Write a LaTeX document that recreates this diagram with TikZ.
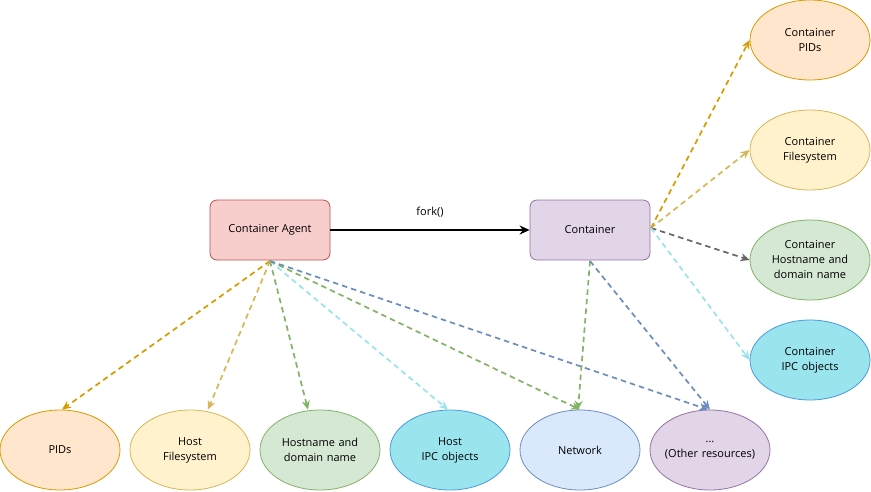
\documentclass[tikz,border=0pt]{standalone}
\usepackage{fontspec}
\setmainfont{Open Sans}
\usetikzlibrary{shapes.geometric,arrows.meta}
\definecolor{agentF}{HTML}{F8CECC}\definecolor{agentS}{HTML}{B85450}
\definecolor{purF}{HTML}{E1D5E7}\definecolor{purS}{HTML}{9673A6}
\definecolor{orF}{HTML}{FFE6CC}\definecolor{orS}{HTML}{D79B00}
\definecolor{yeF}{HTML}{FFF2CC}\definecolor{yeS}{HTML}{D6B656}
\definecolor{grF}{HTML}{D5E8D4}\definecolor{grS}{HTML}{82B366}
\definecolor{cyF}{HTML}{9AE4EE}\definecolor{cyS}{HTML}{4A9CE0}\definecolor{cyA}{HTML}{99E3ED}
\definecolor{blF}{HTML}{DAE8FC}\definecolor{blS}{HTML}{6C8EBF}
\definecolor{gyS}{HTML}{666666}
\begin{document}
\begin{tikzpicture}[x=1pt,y=-1pt,
  every node/.style={font=\fontsize{11}{15}\selectfont, align=center},
  boxnode/.style={draw, rounded corners=7pt, minimum width=120pt, minimum height=60pt, inner sep=0pt, line width=0.8pt},
  ell/.style={draw, ellipse, minimum width=120pt, minimum height=80pt, inner sep=0pt, text width=84pt, line width=0.8pt},
  dlink/.style={dashed, dash pattern=on 5.5pt off 4pt, line width=1.7pt, -{Stealth[length=9pt,width=8pt]}}]
\useasboundingbox (0,0) rectangle (871,491);
\node[boxnode, fill=agentF, draw=agentS] (agent) at (270,230) {Container Agent};
\node[boxnode, fill=purF, draw=purS] (cont) at (590,230) {Container};
\node[ell, fill=orF, draw=orS] (cpid) at (810,40) {Container\\PIDs};
\node[ell, fill=yeF, draw=yeS] (cfs) at (810,150) {Container\\Filesystem};
\node[ell, fill=grF, draw=grS] (chost) at (810,260) {Container\\Hostname and\\domain name};
\node[ell, fill=cyF, draw=cyS] (cipc) at (810,360) {Container\\IPC objects};
\node[ell, fill=orF, draw=orS] (pid) at (60,450) {PIDs};
\node[ell, fill=yeF, draw=yeS] (hfs) at (190,450) {Host\\Filesystem};
\node[ell, fill=grF, draw=grS] (hhost) at (320,450) {Hostname and\\domain name};
\node[ell, fill=cyF, draw=cyS] (hipc) at (450,450) {Host\\IPC objects};
\node[ell, fill=blF, draw=blS] (net) at (580,450) {Network};
\node[ell, fill=purF, draw=purS] (oth) at (710,450) {...\\\hbox to 84pt{\hss(Other resources)\hss}};
\draw[line width=1.5pt, -{Stealth[length=10pt,width=9pt]}] (agent) -- node[above=9pt]{fork()} (cont);
\coordinate (as) at (270,261);
\coordinate (cs) at (590,261);
\coordinate (ce) at (651,228);
\draw[dlink, draw=orS] (as) -- ([xshift=2pt]pid.north);
\draw[dlink, draw=yeS] (as) -- ([xshift=18pt]hfs.north);
\draw[dlink, draw=grS] (as) -- ([xshift=-12pt]hhost.north);
\draw[dlink, draw=cyA] (as) -- ([xshift=-2pt]hipc.north);
\draw[dlink, draw=grS] (as) -- (net.north);
\draw[dlink, draw=blS] (as) -- ([xshift=-2pt]oth.north);
\draw[dlink, draw=grS] (cs) -- ([xshift=-2pt]net.north);
\draw[dlink, draw=blS] (cs) -- (oth.north);
\draw[dlink, draw=orS] (ce) -- (cpid.west);
\draw[dlink, draw=yeS] (ce) -- (cfs.west);
\draw[dlink, draw=gyS] (ce) -- (chost.west);
\draw[dlink, draw=cyA] (ce) -- (cipc.west);
\end{tikzpicture}
\end{document}
